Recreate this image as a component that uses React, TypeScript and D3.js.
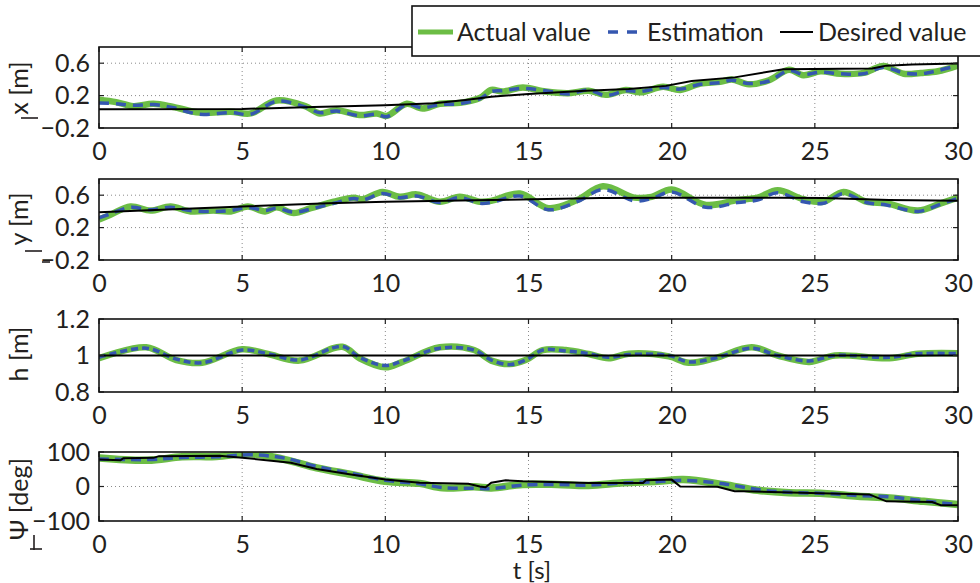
import React, { useRef, useEffect } from 'react';
import * as d3 from 'd3';

// ---- time axis
const X_TICKS = [0, 5, 10, 15, 20, 25, 30];

// ---- panel 1: x [m]
const T_X = [0, 0.6, 1.2, 1.9, 2.6, 3.5, 4.6, 5.3, 6.2, 7.2, 7.7, 8.3, 9.1, 9.7, 10.05, 10.75, 11.3, 11.9, 12.6, 13.3, 13.7, 14.1, 14.8, 15.6, 16.4, 17.1, 17.7, 18.4, 18.9, 19.7, 20.3, 21.0, 21.7, 22.1, 22.7, 23.4, 24.1, 24.6, 25.2, 25.9, 26.7, 27.4, 28.1, 28.7, 29.3, 30];
const X_ACT = [0.15, 0.12, 0.07, 0.10, 0.06, -0.01, 0.0, -0.02, 0.14, 0.07, -0.02, 0.02, -0.04, -0.02, -0.05, 0.10, 0.04, 0.10, 0.11, 0.17, 0.27, 0.25, 0.30, 0.25, 0.23, 0.26, 0.21, 0.27, 0.24, 0.31, 0.27, 0.35, 0.37, 0.40, 0.34, 0.39, 0.52, 0.45, 0.50, 0.47, 0.48, 0.565, 0.47, 0.48, 0.50, 0.57];
const X_EST = [0.11, 0.10, 0.08, 0.09, 0.05, -0.03, -0.01, -0.03, 0.13, 0.06, -0.01, 0.01, -0.05, -0.03, -0.06, 0.09, 0.05, 0.09, 0.10, 0.16, 0.25, 0.26, 0.29, 0.26, 0.22, 0.27, 0.20, 0.26, 0.25, 0.30, 0.28, 0.34, 0.36, 0.39, 0.35, 0.38, 0.51, 0.46, 0.49, 0.47, 0.47, 0.55, 0.48, 0.47, 0.51, 0.57];
const T_X_DES = [0, 5, 7.5, 10, 11.7, 12.8, 13.7, 15, 17, 18.5, 19.8, 20.7, 22.2, 23.9, 27, 27.5, 28.4, 30];
const X_DES = [0.03, 0.035, 0.06, 0.08, 0.105, 0.146, 0.186, 0.22, 0.26, 0.28, 0.32, 0.38, 0.425, 0.525, 0.535, 0.57, 0.585, 0.597];

// ---- panel 2: y [m]
const T_Y = [0, 0.4, 1.1, 1.8, 2.5, 3.2, 4.0, 4.6, 5.2, 5.8, 6.2, 6.8, 7.4, 8.2, 8.9, 9.2, 9.9, 10.5, 11.1, 11.9, 12.6, 13.3, 13.7, 14.7, 15.7, 16.7, 17.6, 18.7, 19.3, 20.0, 21.2, 22.3, 23.0, 23.7, 24.6, 25.3, 26.0, 26.8, 27.5, 28.6, 29.4, 30];
const Y_ACT = [0.30, 0.36, 0.46, 0.41, 0.46, 0.40, 0.41, 0.40, 0.46, 0.40, 0.45, 0.38, 0.44, 0.52, 0.57, 0.55, 0.64, 0.58, 0.61, 0.52, 0.58, 0.52, 0.53, 0.62, 0.44, 0.54, 0.71, 0.57, 0.58, 0.67, 0.48, 0.54, 0.57, 0.66, 0.55, 0.52, 0.64, 0.52, 0.50, 0.41, 0.50, 0.57];
const Y_EST = [0.32, 0.37, 0.45, 0.42, 0.45, 0.41, 0.40, 0.41, 0.45, 0.41, 0.44, 0.39, 0.43, 0.50, 0.56, 0.54, 0.62, 0.57, 0.59, 0.51, 0.57, 0.50, 0.51, 0.59, 0.42, 0.52, 0.67, 0.53, 0.56, 0.64, 0.45, 0.51, 0.54, 0.63, 0.52, 0.50, 0.62, 0.51, 0.48, 0.40, 0.49, 0.56];
const T_Y_DES = [0, 5, 8, 10, 13.7, 17.5, 20, 23.7, 25.3, 27.6, 30];
const Y_DES = [0.39, 0.46, 0.50, 0.52, 0.54, 0.565, 0.57, 0.57, 0.565, 0.54, 0.53];

// ---- panel 3: h [m]
const T_H = [0, 1.65, 2.7, 3.6, 5.0, 5.9, 7.0, 8.5, 9.1, 10.0, 10.6, 11.9, 13.1, 13.7, 14.35, 14.9, 15.5, 16.3, 17.1, 17.8, 18.5, 19.9, 20.6, 21.5, 22.8, 23.7, 24.8, 25.7, 27.6, 28.6, 30];
const H_ACT = [0.985, 1.045, 0.975, 0.96, 1.034, 1.008, 0.972, 1.048, 0.985, 0.935, 0.965, 1.045, 1.03, 0.972, 0.953, 0.975, 1.03, 1.03, 1.008, 0.985, 1.01, 0.995, 0.96, 0.985, 1.045, 1.0, 0.965, 1.0, 0.985, 1.01, 1.013];
const H_EST = [0.99, 1.04, 0.98, 0.96, 1.03, 1.01, 0.975, 1.05, 0.99, 0.945, 0.97, 1.04, 1.03, 0.975, 0.95, 0.975, 1.03, 1.025, 1.01, 0.99, 1.005, 1.0, 0.965, 0.985, 1.04, 1.0, 0.97, 1.0, 0.99, 1.01, 1.01];
const T_H_DES = [0, 30];
const H_DES = [1, 1];

// ---- panel 4: Psi [deg]
const T_PSI = [0, 1.7, 2.9, 4.1, 5.3, 6.5, 7.6, 8.8, 10.0, 11.2, 12.0, 13.1, 13.7, 14.8, 16.0, 17.1, 18.3, 19.5, 20.4, 21.8, 23.0, 24.1, 25.3, 26.5, 27.6, 28.8, 30];
const PSI_ACT = [83, 76, 86, 87, 95, 78, 54, 35, 15, 9, -4, -1, -4, 6, 6, 3, 11, 15, 20, 6, -11, -18, -20, -28, -33, -43, -52];
const PSI_EST = [80, 78, 84, 86, 92, 82, 58, 38, 18, 8, -3, -5, -6, 4, 6, 4, 10, 14, 18, 8, -9, -17, -20, -26, -30, -42, -52];
const T_PSI_DES = [0, 0.75, 0.85, 1.9, 2.1, 4.2, 5.3, 6.7, 7.6, 8.8, 10, 11.2, 12.9, 13.3, 13.5, 13.7, 14.2, 14.8, 17.1, 19.0, 19.1, 20, 20.3, 21.6, 22.2, 22.5, 26.9, 27.5, 29.1, 29.4, 30];
const PSI_DES = [78, 76, 82, 83, 88, 89, 81, 69, 51, 35, 20, 11, 8, 0, -2, 11, 18, 15, 10, 10, 18, 20, 0, -1, -14, -14, -23, -43, -45, -54, -54];

const LEGEND_LABELS = ['Actual value', 'Estimation', 'Desired value'];

const GREEN = '#6cbd45';
const BLUE = '#3557b0';
const FONT = "Lato, 'Open Sans', sans-serif";
const FS = 25;

const fmt = (v: number) => String(v).replace('-', '\u2212');

const App = () => {
  const svgRef = useRef<SVGSVGElement>(null);

  useEffect(() => {
    const svg = d3.select(svgRef.current);
    svg.selectAll('*').remove();

    const left = 99, right = 958;
    const x = d3.scaleLinear().domain([0, 30]).range([left, right]);

    const panels = [
      { top: 47, bottom: 128, domain: [-0.2, 0.8], ticks: [-0.2, 0.2, 0.6], label: 'x [m]', labelY: 88, t: T_X, act: X_ACT, est: X_EST, td: T_X_DES, des: X_DES, dash: '10,7', gw: 6.5 },
      { top: 179, bottom: 260, domain: [-0.2, 0.8], ticks: [-0.2, 0.2, 0.6], label: 'y [m]', labelY: 219, t: T_Y, act: Y_ACT, est: Y_EST, td: T_Y_DES, des: Y_DES, dash: '10,7', gw: 6.5 },
      { top: 319, bottom: 392, domain: [0.8, 1.2], ticks: [0.8, 1, 1.2], label: 'h [m]', labelY: 354, t: T_H, act: H_ACT, est: H_EST, td: T_H_DES, des: H_DES, dash: '7,4', gw: 6.5 },
      { top: 452, bottom: 521, domain: [-100, 100], ticks: [-100, 0, 100], label: 'Ψ [deg]', labelY: 499, t: T_PSI, act: PSI_ACT, est: PSI_EST, td: T_PSI_DES, des: PSI_DES, dash: '10,6', gw: 7.5 },
    ];

    panels.forEach((p, i) => {
      const y = d3.scaleLinear().domain(p.domain).range([p.bottom, p.top]);
      const g = svg.append('g');

      // dotted grid
      X_TICKS.slice(1, -1).forEach(v => {
        g.append('line').attr('x1', x(v)).attr('x2', x(v)).attr('y1', p.top).attr('y2', p.bottom)
          .attr('stroke', '#8a8a8a').attr('stroke-width', 1).attr('stroke-dasharray', '1,3');
      });
      p.ticks.slice(1).forEach(v => {
        if (y(v) <= p.top + 1) return;
        g.append('line').attr('x1', left).attr('x2', right).attr('y1', y(v)).attr('y2', y(v))
          .attr('stroke', '#8a8a8a').attr('stroke-width', 1).attr('stroke-dasharray', '1,3');
      });

      const clipId = `clip-${i}`;
      svg.append('clipPath').attr('id', clipId).append('rect')
        .attr('x', left).attr('y', p.top).attr('width', right - left).attr('height', p.bottom - p.top);

      const smooth = d3.line<[number, number]>().x(d => x(d[0])).y(d => y(d[1])).curve(d3.curveCatmullRom.alpha(0.5));
      const straight = d3.line<[number, number]>().x(d => x(d[0])).y(d => y(d[1]));

      const lines = g.append('g').attr('clip-path', `url(#${clipId})`);
      lines.append('path').datum(d3.zip(p.t, p.act) as [number, number][])
        .attr('fill', 'none').attr('stroke', GREEN).attr('stroke-width', p.gw)
        .attr('stroke-linejoin', 'round').attr('d', smooth);
      lines.append('path').datum(d3.zip(p.t, p.est) as [number, number][])
        .attr('fill', 'none').attr('stroke', BLUE).attr('stroke-width', 3.5)
        .attr('stroke-dasharray', p.dash).attr('d', smooth);
      lines.append('path').datum(d3.zip(p.td, p.des) as [number, number][])
        .attr('fill', 'none').attr('stroke', '#000').attr('stroke-width', 2).attr('d', straight);

      // inner ticks
      X_TICKS.forEach(v => {
        g.append('line').attr('x1', x(v)).attr('x2', x(v)).attr('y1', p.top).attr('y2', p.top + 5).attr('stroke', '#222').attr('stroke-width', 1.2);
        g.append('line').attr('x1', x(v)).attr('x2', x(v)).attr('y1', p.bottom).attr('y2', p.bottom - 5).attr('stroke', '#222').attr('stroke-width', 1.2);
      });
      p.ticks.forEach(v => {
        g.append('line').attr('x1', left).attr('x2', left + 5).attr('y1', y(v)).attr('y2', y(v)).attr('stroke', '#222').attr('stroke-width', 1.2);
        g.append('line').attr('x1', right - 5).attr('x2', right).attr('y1', y(v)).attr('y2', y(v)).attr('stroke', '#222').attr('stroke-width', 1.2);
      });

      g.append('rect').attr('x', left).attr('y', p.top).attr('width', right - left).attr('height', p.bottom - p.top)
        .attr('fill', 'none').attr('stroke', '#111').attr('stroke-width', 1.6);

      // axes text
      const xAxis = g.append('g').attr('transform', `translate(0,${p.bottom})`)
        .call(d3.axisBottom(x).tickValues(X_TICKS).tickSize(0).tickPadding(14).tickFormat(d => fmt(+d)));
      xAxis.select('.domain').remove();
      xAxis.selectAll('text').style('font-family', FONT).style('font-size', `${FS}px`).style('fill', '#231f20');

      const yAxis = g.append('g').attr('transform', `translate(${left},0)`)
        .call(d3.axisLeft(y).tickValues(p.ticks).tickSize(0).tickPadding(9).tickFormat(d => fmt(+d)));
      yAxis.select('.domain').remove();
      yAxis.selectAll('text').style('font-family', FONT).style('font-size', `${FS}px`).style('fill', '#231f20');

      g.append('text')
        .attr('transform', `translate(28,${p.labelY}) rotate(-90)`)
        .attr('text-anchor', 'middle')
        .style('font-family', FONT).style('font-size', `${FS}px`).style('fill', '#231f20')
        .text(p.label);
    });

    // small label marks
    const marks = [
      [21, 118, 38, 118],
      [25, 251, 42, 251], [42, 262, 50, 262],
      [30, 549, 42, 549], [34, 535, 34, 550],
    ];
    marks.forEach(m => {
      svg.append('line').attr('x1', m[0]).attr('y1', m[1]).attr('x2', m[2]).attr('y2', m[3])
        .attr('stroke', '#231f20').attr('stroke-width', 1.6);
    });

    svg.append('text').attr('x', 532).attr('y', 579).attr('text-anchor', 'middle')
      .style('font-family', FONT).style('font-size', '24px').style('fill', '#231f20')
      .text('t [s]');

    // legend
    const lg = svg.append('g');
    lg.append('rect').attr('x', 412).attr('y', 6).attr('width', 620).attr('height', 50)
      .attr('fill', '#fff').attr('stroke', '#111').attr('stroke-width', 1.6);
    const items = [
      { x1: 418, x2: 453, tx: 457, stroke: GREEN, w: 5, dash: null },
      { x1: 608, x2: 637, tx: 647, stroke: BLUE, w: 3.5, dash: '10,9' },
      { x1: 780, x2: 813, tx: 818, stroke: '#000', w: 2, dash: null },
    ];
    items.forEach((it, i) => {
      lg.append('line').attr('x1', it.x1).attr('x2', it.x2).attr('y1', 32).attr('y2', 32)
        .attr('stroke', it.stroke).attr('stroke-width', it.w).attr('stroke-dasharray', it.dash);
      lg.append('text').attr('x', it.tx).attr('y', 41)
        .style('font-family', FONT).style('font-size', `${FS}px`).style('fill', '#231f20')
        .text(LEGEND_LABELS[i]);
    });
  }, []);

  return (
    <svg ref={svgRef} width={980} height={583}
      style={{ position: 'absolute', left: 0, top: 0, background: '#fff' }} />
  );
};

export default App;
